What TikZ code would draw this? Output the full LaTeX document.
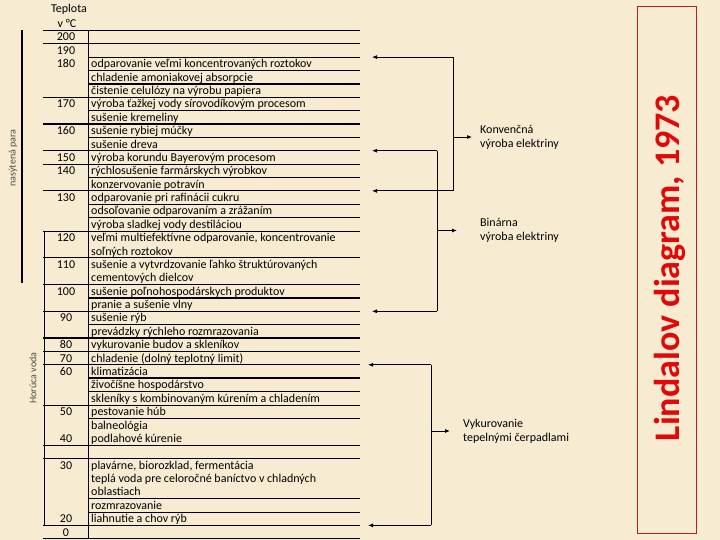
\documentclass[tikz,border=0pt]{standalone}
\usepackage{fontspec}
\setmainfont{Carlito}
\usetikzlibrary{arrows.meta}
\definecolor{parchment}{RGB}{247,236,210}
\definecolor{titlered}{RGB}{226,8,8}
\definecolor{framered}{RGB}{175,35,35}

\begin{document}
\begin{tikzpicture}[x=1pt, y=-1pt,
    cell/.style={font=\fontsize{12}{13}\selectfont, inner sep=0pt},
    lab/.style={font=\fontsize{12}{14}\selectfont, anchor=west, align=left, inner sep=0pt},
    side/.style={rotate=90, font=\fontsize{10}{11}\selectfont, text=black!70, inner sep=0pt},
    grid/.style={line width=0.8pt},
    heavy/.style={line width=2pt},
    arr/.style={-{Latex[length=5pt,width=4pt]}, line width=0.8pt}]

	% Background
	\fill[parchment] (0,0) rectangle (720,540);
	\useasboundingbox (0,0) rectangle (720,540);

	% Header
	\node[cell] (head1) at (69,9) {Teplota};
	\node[cell] (head2) at (67,23) {v °C};

	% Rows of the table
	\foreach \k/\n/\t in {
		0/200/{}, 1/190/{}, 2/180/{odparovanie veľmi koncentrovaných roztokov},
		3/{}/{chladenie amoniakovej absorpcie}, 4/{}/{čistenie celulózy na výrobu papiera},
		5/170/{výroba ťažkej vody sírovodíkovým procesom}, 6/{}/{sušenie kremeliny},
		7/160/{sušenie rybiej múčky}, 8/{}/{sušenie dreva},
		9/150/{výroba korundu Bayerovým procesom}, 10/140/{rýchlosušenie farmárskych výrobkov},
		11/{}/{konzervovanie potravín}, 12/130/{odparovanie pri rafinácii cukru},
		13/{}/{odsoľovanie odparovaním a zrážaním}, 14/{}/{výroba sladkej vody destiláciou},
		15/120/{veľmi multiefektívne odparovanie, koncentrovanie}, 16/{}/{soľných roztokov},
		17/110/{sušenie a vytvrdzovanie ľahko štruktúrovaných}, 18/{}/{cementových dielcov},
		19/100/{sušenie poľnohospodárskych produktov}, 20/{}/{pranie a sušenie vlny},
		21/90/{sušenie rýb}, 22/{}/{prevádzky rýchleho rozmrazovania},
		23/80/{vykurovanie budov a skleníkov}, 24/70/{chladenie (dolný teplotný limit)},
		25/60/{klimatizácia}, 26/{}/{živočíšne hospodárstvo},
		27/{}/{skleníky s kombinovaným kúrením a chladením}, 28/50/{pestovanie húb},
		29/{}/{balneológia}, 30/40/{podlahové kúrenie}, 31/{}/{},
		32/30/{plavárne, biorozklad, fermentácia},
		33/{}/{teplá voda pre celoročné baníctvo v chladných}, 34/{}/{oblastiach},
		35/{}/{rozmrazovanie}, 36/20/{liahnutie a chov rýb}, 37/0/{}}{
		\node[cell, anchor=base] (n\k) at (66,{41+13.38*\k}) {\n};
		\node[cell, anchor=base west] (t\k) at (91,{41+13.38*\k}) {\t};
	}

	% Rules across the table
	\foreach \k in {0,1,5,9,10,12,15,17,19,21,24,25,28,31,32,37,38}
		\draw[grid] (43,{30.3+13.38*\k}) -- (360,{30.3+13.38*\k});
	\foreach \k in {7,23}
		\draw[heavy] (43,{30.3+13.38*\k}) -- (360,{30.3+13.38*\k});
	\foreach \k in {2,3,6,8,11,13,14,22,27,29,35,36}
		\draw[grid] (88,{30.3+13.38*\k}) -- (360,{30.3+13.38*\k});
	\foreach \k in {4,20,26}
		\draw[heavy] (88,{30.3+13.38*\k}) -- (360,{30.3+13.38*\k});
	\draw[grid] (88,30.3) -- (88,538.7);
	\draw[grid] (44,231) -- (44,525.4);

	% Steam and hot water
	\coordinate (s1) at (22,30);
	\coordinate (s2) at (22,283);
	\draw[heavy] (s1) -- (s2);
	\node[side] (steam) at (13,158) {nasýtená para};
	\node[side] (water) at (33,378) {Horúca voda};

	% Konvencna vyroba elektriny
	\coordinate (k1) at (453,57.1);
	\coordinate (k2) at (453,190.9);
	\coordinate (k3) at (453,137);
	\coordinate (kt1) at (372,57.1);
	\coordinate (kt2) at (372,190.9);
	\node[lab] (konv) at (480,137) {Konvenčná\\výroba elektriny};
	\draw[grid] (k1) -- (k2);
	\draw[arr] (k1) -- (kt1);
	\draw[arr] (k2) -- (kt2);
	\draw[arr, shorten >=8pt] (k3) -- (konv.west);

	% Binarna vyroba elektriny
	\coordinate (b1) at (437,150.7);
	\coordinate (b2) at (437,311.3);
	\coordinate (b3) at (437,230.5);
	\coordinate (bt1) at (372,150.7);
	\coordinate (bt2) at (372,311.3);
	\node[lab] (bin) at (480,230.5) {Binárna\\výroba elektriny};
	\draw[grid] (b1) -- (b2);
	\draw[arr] (b1) -- (bt1);
	\draw[arr] (b2) -- (bt2);
	\draw[arr, shorten >=23pt] (b3) -- (bin.west);

	% Vykurovanie tepelnymi cerpadlami
	\coordinate (v1) at (431,364.8);
	\coordinate (v2) at (431,525.4);
	\coordinate (v3) at (431,431);
	\coordinate (vt1) at (368,364.8);
	\coordinate (vt2) at (368,525.4);
	\node[lab] (vyk) at (463,431) {Vykurovanie\\tepelnými čerpadlami};
	\draw[grid] (v1) -- (v2);
	\draw[arr] (v1) -- (vt1);
	\draw[arr] (v2) -- (vt2);
	\draw[arr, shorten >=13pt] (v3) -- (vyk.west);

	% Title
	\draw[framered, line width=1pt] (637,7) rectangle (696,533);
	\node[rotate=90, anchor=base, text=titlered, inner sep=0pt,
		font=\fontsize{36}{40}\selectfont\bfseries] (title) at (679,268) {Lindalov diagram, 1973};
\end{tikzpicture}
\end{document}
